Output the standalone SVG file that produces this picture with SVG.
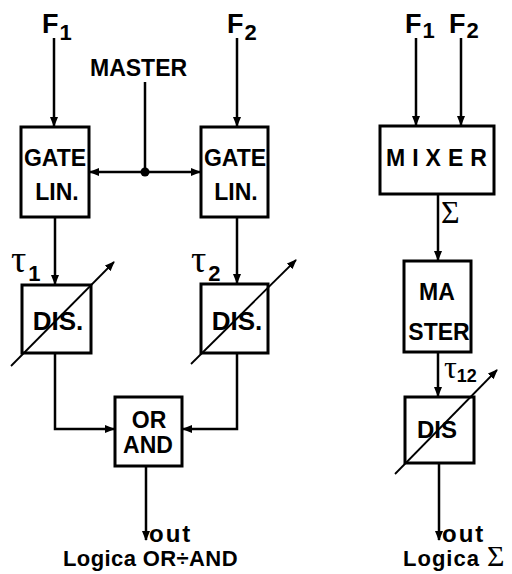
<svg xmlns="http://www.w3.org/2000/svg" width="512" height="574" viewBox="0 0 512 574">
<style>
.box{fill:#fff;stroke:#000;stroke-width:3}
.ln{fill:none;stroke:#000;stroke-width:2.5}
.thin{fill:none;stroke:#000;stroke-width:1.8}
.t{font-family:"Liberation Sans",Arial,sans-serif;font-weight:bold;font-size:22px;fill:#000}
.tau{font-family:"Liberation Serif","Times New Roman",serif;font-size:38px;fill:#000}
.sub{font-family:"Liberation Sans",Arial,sans-serif;font-weight:bold;font-size:22px;fill:#000}
.f{font-family:"Liberation Sans",Arial,sans-serif;font-weight:bold;font-size:27px;fill:#000}
</style>
<defs>
<marker id="ah" markerWidth="10" markerHeight="8" refX="9" refY="4" orient="auto" markerUnits="userSpaceOnUse">
<path d="M0,0 L10,4 L0,8 Z" fill="#000"/>
</marker>
</defs>
<rect width="512" height="574" fill="#fff"/>
<g id="connectors">
<line class="ln" x1="54" y1="38" x2="54" y2="126" marker-end="url(#ah)"/>
<line class="ln" x1="237" y1="38" x2="237" y2="126" marker-end="url(#ah)"/>
<line class="ln" x1="145" y1="82" x2="145" y2="172"/>
<line class="ln" x1="145" y1="172" x2="90" y2="172" marker-end="url(#ah)"/>
<line class="ln" x1="145" y1="172" x2="200" y2="172" marker-end="url(#ah)"/>
<circle cx="145" cy="172" r="4.5" fill="#000"/>
<line class="ln" x1="55" y1="217" x2="55" y2="284" marker-end="url(#ah)"/>
<line class="ln" x1="237" y1="217" x2="237" y2="283" marker-end="url(#ah)"/>
<polyline class="ln" points="55,353 55,429 114,429" marker-end="url(#ah)"/>
<polyline class="ln" points="237,353 237,429 183,429" marker-end="url(#ah)"/>
<line class="ln" x1="146" y1="466" x2="146" y2="540" marker-end="url(#ah)"/>
<line class="ln" x1="416" y1="38" x2="416" y2="125" marker-end="url(#ah)"/>
<line class="ln" x1="461" y1="38" x2="461" y2="125" marker-end="url(#ah)"/>
<line class="ln" x1="438" y1="194" x2="438" y2="260" marker-end="url(#ah)"/>
<line class="ln" x1="438" y1="352" x2="438" y2="396" marker-end="url(#ah)"/>
<line class="ln" x1="439" y1="463" x2="439" y2="540" marker-end="url(#ah)"/>
</g>
<g id="gate1">
<rect class="box" x="21" y="127" width="68" height="90"/>
<text class="t" x="55" y="166" text-anchor="middle" style="font-size:23px">GATE</text>
<text class="t" x="57" y="200" text-anchor="middle" style="font-size:23px">LIN.</text>
</g>
<g id="gate2">
<rect class="box" x="201" y="127" width="67" height="90"/>
<text class="t" x="235" y="166" text-anchor="middle" style="font-size:23px">GATE</text>
<text class="t" x="236" y="200" text-anchor="middle" style="font-size:23px">LIN.</text>
</g>
<g id="dis1">
<rect class="box" x="22" y="285" width="69" height="68"/>
<text class="t" x="58" y="330" text-anchor="middle" style="font-size:26px">DIS.</text>
<line class="thin" x1="11" y1="366" x2="114" y2="262" marker-end="url(#ah)"/>
</g>
<g id="dis2">
<rect class="box" x="201" y="284" width="67" height="69"/>
<text class="t" x="237" y="330" text-anchor="middle" style="font-size:26px">DIS.</text>
<line class="thin" x1="191" y1="364" x2="296" y2="260" marker-end="url(#ah)"/>
</g>
<g id="orand">
<rect class="box" x="115" y="397" width="67" height="69"/>
<text class="t" x="149" y="428" text-anchor="middle" style="font-size:23px">OR</text>
<text class="t" x="148" y="453" text-anchor="middle" style="font-size:23px">AND</text>
</g>
<g id="mixer">
<rect class="box" x="380" y="126" width="114" height="68"/>
<text class="t" x="386" y="166" letter-spacing="7" style="font-size:23px">MIXER</text>
</g>
<g id="master2">
<rect class="box" x="404" y="261" width="67" height="91"/>
<text class="t" x="437" y="300" text-anchor="middle" style="font-size:23px">MA</text>
<text class="t" x="439" y="340" text-anchor="middle" style="font-size:23px">STER</text>
</g>
<g id="dis3">
<rect class="box" x="405" y="397" width="69" height="66"/>
<text class="t" x="437" y="438" text-anchor="middle" style="font-size:24px">DIS</text>
<line class="thin" x1="395" y1="474" x2="497" y2="370" marker-end="url(#ah)"/>
</g>
<g id="labels">
<text class="f" x="42" y="33">F<tspan class="sub" dx="1" dy="7">1</tspan></text>
<text class="f" x="227" y="33">F<tspan class="sub" dx="1" dy="7">2</tspan></text>
<text class="f" x="405" y="33">F<tspan class="sub" dx="1" dy="5">1</tspan></text>
<text class="f" x="449" y="33">F<tspan class="sub" dx="1" dy="5">2</tspan></text>
<text class="t" x="90" y="76" style="font-size:23px">MASTER</text>
<text class="tau" x="11" y="272">τ<tspan class="sub" dx="2" dy="9">1</tspan></text>
<text class="tau" x="191" y="272">τ<tspan class="sub" dx="2" dy="9">2</tspan></text>
<text class="tau" x="444" y="378" style="font-size:32px">τ<tspan class="sub" dy="4" style="font-size:18px">12</tspan></text>
<text x="441" y="223" style="font-family:'Liberation Serif',serif;font-size:32px;fill:#000">Σ</text>
<text class="t" x="149" y="542" letter-spacing="2" style="font-size:24px">out</text>
<text class="t" x="63" y="566" letter-spacing="0.4">Logica OR÷AND</text>
<text class="t" x="442" y="542" letter-spacing="2" style="font-size:24px">out</text>
<text class="t" x="403" y="566" letter-spacing="1">Logica <tspan style="font-family:'Liberation Serif',serif;font-weight:normal;font-size:30px">Σ</tspan></text>
</g>
</svg>
